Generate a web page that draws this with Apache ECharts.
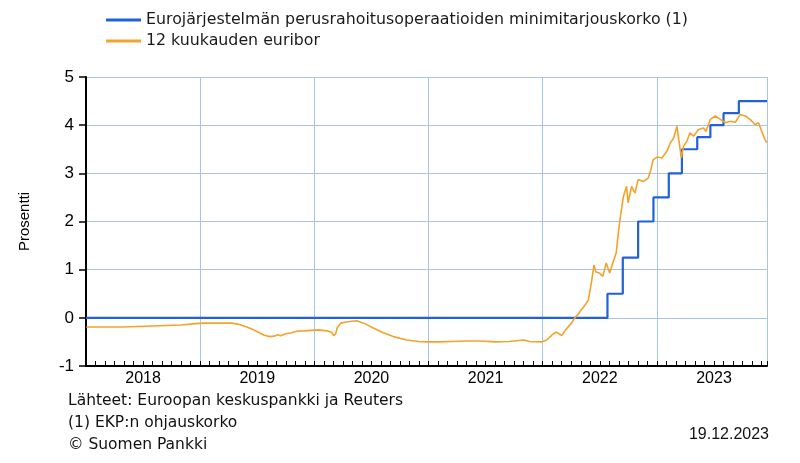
<!DOCTYPE html>
<html><head><meta charset="utf-8">
<script src="https://cdn.jsdelivr.net/npm/echarts@6/dist/echarts.min.js"></script>
<style>html,body{margin:0;padding:0;background:#fff}#c{width:800px;height:463px}</style>
</head><body><div id="c"></div>
<script>
const seriesNames = ['Eurojärjestelmän perusrahoitusoperaatioiden minimitarjouskorko (1)', '12 kuukauden euribor'];
const startDate = '2018-01-01';
const endDate = '2023-12-19';
const yearLabels = ['2018', '2019', '2020', '2021', '2022', '2023'];
const yMin = -1, yMax = 5, yStep = 1;

const mroDates = ['2018-01-01','2022-07-27','2022-09-14','2022-11-02','2022-12-21','2023-02-08','2023-03-22','2023-05-10','2023-06-21','2023-08-02','2023-09-20','2023-12-19'];
const mroValues = [0, 0.5, 1.25, 2.0, 2.5, 3.0, 3.5, 3.75, 4.0, 4.25, 4.5, 4.5];

const euriborDates = [
'2018-01-02','2018-03-01','2018-05-01','2018-06-15','2018-08-01','2018-09-15','2018-11-01','2018-12-15',
'2019-01-15','2019-02-15','2019-03-15','2019-04-12','2019-05-01','2019-05-26','2019-06-15','2019-07-09','2019-07-25','2019-08-12','2019-08-25','2019-09-06','2019-09-15','2019-10-01','2019-10-20','2019-11-05','2019-12-01','2019-12-20',
'2020-01-15','2020-02-10','2020-02-25','2020-03-03','2020-03-10','2020-03-14','2020-03-25','2020-04-15','2020-05-16','2020-06-07','2020-07-08','2020-08-09','2020-09-10','2020-10-23','2020-12-01','2020-12-26',
'2021-02-01','2021-03-15','2021-05-01','2021-06-15','2021-08-01','2021-09-15','2021-10-31','2021-11-20','2021-12-27',
'2022-01-14','2022-02-01','2022-02-13','2022-02-20','2022-03-03','2022-03-15','2022-04-03','2022-04-14','2022-04-25','2022-05-05','2022-05-17','2022-05-27','2022-06-07','2022-06-14','2022-06-20','2022-07-01','2022-07-12','2022-07-23','2022-08-03','2022-08-13','2022-08-24','2022-09-01','2022-09-05','2022-09-16','2022-09-26','2022-10-01','2022-10-12','2022-10-23','2022-11-02','2022-11-18','2022-12-04','2022-12-13','2022-12-20',
'2023-01-02','2023-01-17','2023-02-02','2023-02-13','2023-02-24','2023-03-06','2023-03-15','2023-03-20','2023-03-27','2023-04-07','2023-04-17','2023-04-28','2023-05-14','2023-05-30','2023-06-07','2023-06-21','2023-07-07','2023-07-23','2023-08-08','2023-08-24','2023-09-09','2023-09-24','2023-10-11','2023-10-26','2023-11-11','2023-11-22','2023-12-02','2023-12-13','2023-12-18'];
const euriborValues = [
-0.19,-0.19,-0.19,-0.18,-0.17,-0.16,-0.15,-0.12,
-0.11,-0.11,-0.11,-0.11,-0.13,-0.18,-0.23,-0.31,-0.36,-0.39,-0.38,-0.35,-0.37,-0.33,-0.31,-0.28,-0.27,-0.26,
-0.25,-0.27,-0.30,-0.37,-0.32,-0.21,-0.11,-0.08,-0.06,-0.11,-0.21,-0.31,-0.39,-0.46,-0.49,-0.50,
-0.50,-0.49,-0.48,-0.48,-0.50,-0.49,-0.46,-0.49,-0.50,
-0.46,-0.35,-0.30,-0.32,-0.37,-0.25,-0.11,0.0,0.08,0.17,0.27,0.37,0.79,1.10,0.95,0.93,0.86,1.14,0.93,1.14,1.35,1.83,2.04,2.52,2.73,2.39,2.73,2.59,2.87,2.83,2.90,3.08,3.28,
3.34,3.32,3.46,3.63,3.74,3.98,3.56,3.32,3.56,3.67,3.84,3.77,3.91,3.94,3.87,4.12,4.19,4.12,4.05,4.08,4.06,4.22,4.19,4.12,4.01,4.05,3.87,3.70,3.64];

function toYear(s) {
  const p = s.split('-').map(Number);
  const t = Date.UTC(p[0], p[1] - 1, p[2]);
  const a = Date.UTC(p[0], 0, 1), b = Date.UTC(p[0] + 1, 0, 1);
  return p[0] + (t - a) / (b - a);
}
const xMin = toYear(startDate), xMax = toYear(endDate);
const mroData = mroDates.map((d, i) => [toYear(d), mroValues[i]]);
const eurData = euriborDates.map((d, i) => [toYear(d), euriborValues[i]]);

const FONT = 'Liberation Sans, Arial, sans-serif';
const TFONT = 'DejaVu Sans, Verdana, sans-serif';
const gridColor = '#a8c3ee';
const chart = echarts.init(document.getElementById('c'), null, {renderer: 'canvas'});
chart.setOption({
  backgroundColor: '#ffffff',
  animation: false,
  textStyle: {fontFamily: FONT},
  legend: {
    orient: 'vertical', left: 101, top: 7,
    itemWidth: 35, itemHeight: 3, itemGap: 5,
    icon: 'rect',
    textStyle: {fontSize: 15.8, color: '#1a1a1a', fontFamily: TFONT},
    data: seriesNames
  },
  grid: {left: 86, right: 33, top: 77, bottom: 97, containLabel: false},
  xAxis: [{
    type: 'value', min: xMin, max: xMax, interval: 1,
    axisLine: {show: true, onZero: false, lineStyle: {color: '#000', width: 2}},
    axisTick: {show: true, inside: true, length: 5, lineStyle: {color: '#000', width: 1}},
    minorTick: {show: true, splitNumber: 12, length: 5, lineStyle: {color: '#000', width: 1}},
    axisLabel: {show: false},
    splitLine: {show: true, lineStyle: {color: gridColor, width: 1}}
  }, {
    type: 'value', min: xMin - 0.5, max: xMax - 0.5, minInterval: 1, maxInterval: 1, splitNumber: 6,
    position: 'bottom',
    axisLine: {show: false, onZero: false}, axisTick: {show: false}, splitLine: {show: false},
    axisLabel: {
      show: true, margin: 5, fontSize: 16, color: '#000', fontFamily: FONT,
      formatter: function (v) {
        if (Math.abs(v - Math.round(v)) > 1e-6) return '';
        const idx = Math.round(v) - Math.round(xMin);
        return yearLabels[idx] !== undefined ? yearLabels[idx] : '';
      }
    }
  }],
  yAxis: {
    type: 'value', min: yMin, max: yMax, interval: yStep,
    name: 'Prosentti', nameLocation: 'middle', nameRotate: 90, nameGap: 54,
    nameTextStyle: {fontSize: 15, color: '#000', fontFamily: FONT},
    axisLine: {show: true, lineStyle: {color: '#000', width: 2}},
    axisTick: {show: true, length: 7, lineStyle: {color: '#000', width: 1.5}},
    axisLabel: {fontSize: 17, color: '#000', margin: 12, fontFamily: FONT},
    splitLine: {show: true, lineStyle: {color: gridColor, width: 1}}
  },
  series: [{
    name: seriesNames[0], type: 'line', xAxisIndex: 0, data: mroData, step: 'end',
    showSymbol: false, symbol: 'none', z: 3,
    lineStyle: {color: '#2162d6', width: 2.2}, itemStyle: {color: '#2162d6'}
  }, {
    name: seriesNames[1], type: 'line', xAxisIndex: 0, data: eurData,
    showSymbol: false, symbol: 'none', z: 4,
    lineStyle: {color: '#f3a32a', width: 1.6}, itemStyle: {color: '#f3a32a'}
  }],
  graphic: [
    {type: 'text', left: 68, top: 393, style: {text: 'Lähteet: Euroopan keskuspankki ja Reuters', fontSize: 15.5, fill: '#111', fontFamily: TFONT}},
    {type: 'text', left: 68, top: 415, style: {text: '(1) EKP:n ohjauskorko', fontSize: 15.5, fill: '#111', fontFamily: TFONT}},
    {type: 'text', left: 68, top: 437, style: {text: '© Suomen Pankki', fontSize: 15.5, fill: '#111', fontFamily: TFONT}},
    {type: 'text', right: 31, top: 427, style: {text: '19.12.2023', fontSize: 16, fill: '#111', fontFamily: FONT}}
  ]
});
</script></body></html>
